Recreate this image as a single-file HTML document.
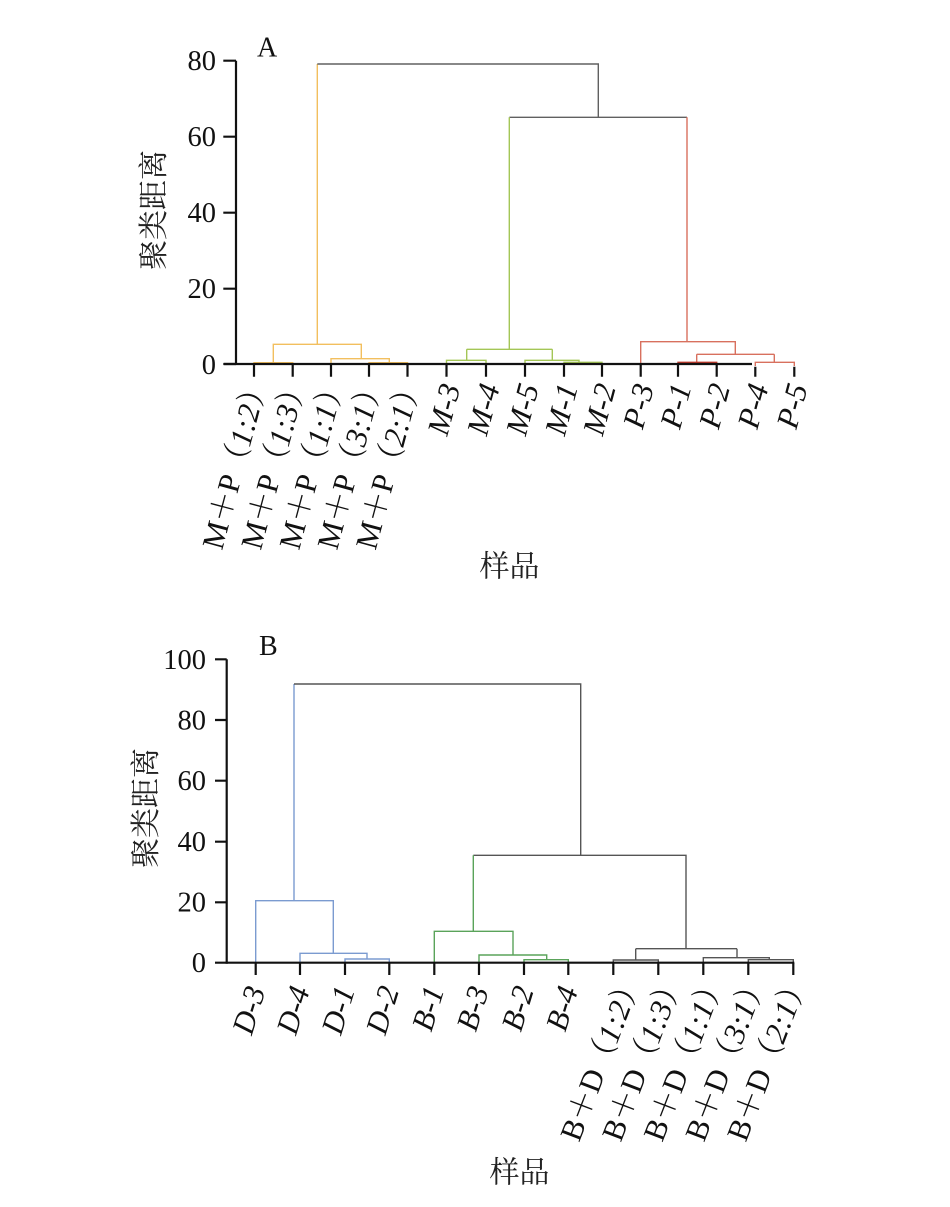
<!DOCTYPE html>
<html>
<head>
<meta charset="utf-8">
<style>
  html, body { margin: 0; padding: 0; background: #ffffff; }
  svg { display: block; }
  .tick { font-family: "Liberation Serif", serif; font-size: 28.5px; fill: #111; }
  .lab { font-family: "Liberation Serif", "Noto Serif CJK SC", serif; font-size: 31px; fill: #111; }
  .it { font-style: italic; }
  .cjk { font-family: "Liberation Serif", "Noto Serif CJK SC", serif; font-size: 30px; fill: #222; }
</style>
</head>
<body>
<svg width="950" height="1207" viewBox="0 0 950 1207" xmlns="http://www.w3.org/2000/svg">
  <rect width="950" height="1207" fill="#ffffff"/>

  <!-- ================= Chart A ================= -->
  <g fill="none" stroke-width="1.4">
    <path stroke="#f2bf5e" d="M254,364 V362.7 H292.7 V364 M273.3,362.7 V344.3 H361.3 V358.7 M331,364 V358.7 H389.3 V362.7 M369,364 V362.7 H407.5 V364 M317.3,344.3 V64"/>
    <path stroke="#606060" d="M317.3,64 H598.3 V117.3 M509.3,117.3 H687"/>
    <path stroke="#a4c656" d="M509.3,117.3 V349.3 M466.7,349.3 H552.3 M466.7,349.3 V360.3 M446.5,364 V360.3 H486 V364 M552.3,349.3 V360.3 M525,364 V360.3 H579 V362.3 M564,364 V362.3 H602 V364"/>
    <path stroke="#d8705e" d="M687,117.3 V341.7 M640.7,364 V341.7 H735.3 V354.3 M696.7,354.3 H774.3 M696.7,354.3 V362.3 M774.3,354.3 V362.3 M755.3,366 V362.3 H794.3 V366"/>
    <path stroke="#c0392b" d="M678,364 V362.3 H716.7 V364"/>
  </g>

  <g stroke="#111" stroke-width="2.2" fill="none">
    <path d="M236,60.7 V365"/>
    <path d="M224,364 H752"/>
    <path d="M223.3,60.7 H236 M223.3,136.7 H236 M223.3,212.7 H236 M223.3,288.7 H236 M223.3,364 H236"/>
    <path d="M254,364 V376.7 M292.7,364 V376.7 M331,364 V376.7 M369,364 V376.7 M407.5,364 V376.7 M446.5,364 V376.7 M486,364 V376.7 M525,364 V376.7 M564,364 V376.7 M602,364 V376.7 M640.7,364 V376.7 M678,364 V376.7 M716.7,364 V376.7 M755.3,366.7 V376.7 M794.3,366.7 V376.7"/>
  </g>

  <g class="tick" text-anchor="end">
    <text x="216" y="70">80</text>
    <text x="216" y="146">60</text>
    <text x="216" y="222">40</text>
    <text x="216" y="298">20</text>
    <text x="216" y="374">0</text>
  </g>
  <text x="257" y="56.5" style="font-family:'Liberation Serif',serif;font-size:28px;fill:#111">A</text>

  <text class="cjk" transform="translate(154.5,210) rotate(-90)" text-anchor="middle" dominant-baseline="central">聚类距离</text>
  <text class="cjk" x="509.5" y="567" text-anchor="middle" dominant-baseline="central">样品</text>

  <g class="lab it" text-anchor="end">
    <text transform="translate(460.5,387) rotate(-75)">M-3</text>
    <text transform="translate(500,387) rotate(-75)">M-4</text>
    <text transform="translate(539,387) rotate(-75)">M-5</text>
    <text transform="translate(578,387) rotate(-75)">M-1</text>
    <text transform="translate(616,387) rotate(-75)">M-2</text>
    <text transform="translate(654.2,387) rotate(-75)">P-3</text>
    <text transform="translate(691.5,387) rotate(-75)">P-1</text>
    <text transform="translate(730.2,387) rotate(-75)">P-2</text>
    <text transform="translate(768.8,387) rotate(-75)">P-4</text>
    <text transform="translate(807.8,387) rotate(-75)">P-5</text>
  </g>
  <g class="lab">
    <text transform="translate(222,551) rotate(-75)">M＋P（<tspan class="it">1:2</tspan>）</text>
    <text transform="translate(260.7,551) rotate(-75)">M＋P（<tspan class="it">1:3</tspan>）</text>
    <text transform="translate(299,551) rotate(-75)">M＋P（<tspan class="it">1:1</tspan>）</text>
    <text transform="translate(337,551) rotate(-75)">M＋P（<tspan class="it">3:1</tspan>）</text>
    <text transform="translate(375.5,551) rotate(-75)">M＋P（<tspan class="it">2:1</tspan>）</text>
  </g>

  <!-- ================= Chart B ================= -->
  <g fill="none" stroke-width="1.4">
    <path stroke="#7b9bd0" d="M255.7,962.7 V900.7 H333.3 V953.3 M294,900.7 V684 M300,962.7 V953.3 H367 V959 M345,962.7 V959 H389.3 V962.7"/>
    <path stroke="#555555" d="M294,684 H580.7 V855.3 M473.3,855.3 H686 V948.7 M635.7,948.7 H737 M635.7,948.7 V960 M613.3,962.7 V960 H658.3 V962.7 M737,948.7 V957.7 M703.3,962.7 V957.7 H769.3 V959.7 M748.3,962.7 V959.7 H793.3 V962.7"/>
    <path stroke="#5aa35a" d="M473.3,855.3 V931.3 M434.3,962.7 V931.3 H513 V955 M479,962.7 V955 H546.7 V959.7 M524,962.7 V959.7 H568.3 V962.7"/>
  </g>

  <g stroke="#111" stroke-width="2.2" fill="none">
    <path d="M226.7,659.3 V963.7"/>
    <path d="M215,962.7 H794.3"/>
    <path d="M215,659.3 H226.7 M215,720 H226.7 M215,780.7 H226.7 M215,841.7 H226.7 M215,902.3 H226.7"/>
    <path d="M255.7,962.7 V975 M300,962.7 V975 M345,962.7 V975 M389.3,962.7 V975 M434.3,962.7 V975 M479,962.7 V975 M524,962.7 V975 M568.3,962.7 V975 M613.3,962.7 V975 M658.3,962.7 V975 M703.3,962.7 V975 M748.3,962.7 V975 M793.3,962.7 V975"/>
  </g>

  <g class="tick" text-anchor="end">
    <text x="206" y="669">100</text>
    <text x="206" y="729.5">80</text>
    <text x="206" y="790">60</text>
    <text x="206" y="851">40</text>
    <text x="206" y="911.5">20</text>
    <text x="206" y="972">0</text>
  </g>
  <text x="259" y="655" style="font-family:'Liberation Serif',serif;font-size:28px;fill:#111">B</text>

  <text class="cjk" transform="translate(146.5,808) rotate(-90)" text-anchor="middle" dominant-baseline="central">聚类距离</text>
  <text class="cjk" x="519.5" y="1173" text-anchor="middle" dominant-baseline="central">样品</text>

  <g class="lab it" text-anchor="end">
    <text transform="translate(265.7,990) rotate(-73)">D-3</text>
    <text transform="translate(310,990) rotate(-73)">D-4</text>
    <text transform="translate(355,990) rotate(-73)">D-1</text>
    <text transform="translate(399.3,990) rotate(-73)">D-2</text>
    <text transform="translate(444.3,990) rotate(-73)">B-1</text>
    <text transform="translate(489,990) rotate(-73)">B-3</text>
    <text transform="translate(534,990) rotate(-73)">B-2</text>
    <text transform="translate(578.3,990) rotate(-73)">B-4</text>
  </g>
  <g class="lab">
    <text transform="translate(579,1143) rotate(-69)">B＋D（<tspan class="it">1:2</tspan>）</text>
    <text transform="translate(620.7,1143) rotate(-69)">B＋D（<tspan class="it">1:3</tspan>）</text>
    <text transform="translate(662.3,1143) rotate(-69)">B＋D（<tspan class="it">1:1</tspan>）</text>
    <text transform="translate(704,1143) rotate(-69)">B＋D（<tspan class="it">3:1</tspan>）</text>
    <text transform="translate(745.7,1143) rotate(-69)">B＋D（<tspan class="it">2:1</tspan>）</text>
  </g>
</svg>
</body>
</html>
